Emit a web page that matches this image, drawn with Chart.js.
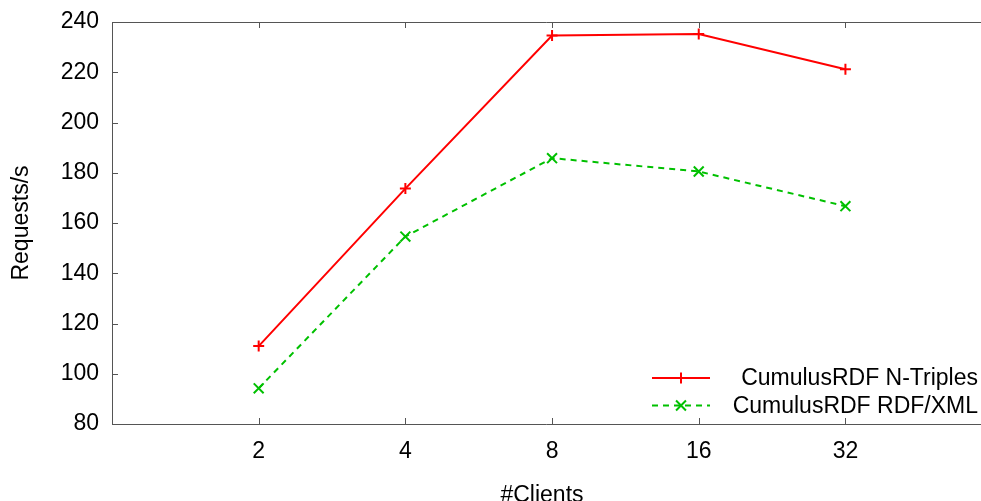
<!DOCTYPE html>
<html>
<head>
<meta charset="utf-8">
<script src="https://cdn.jsdelivr.net/npm/chart.js@4/dist/chart.umd.min.js"></script>
<style>
  html, body { margin: 0; padding: 0; background: #fff; }
  #wrap { width: 981px; height: 501px; }
</style>
</head>
<body>
<div id="wrap"><canvas id="chart" width="981" height="501"></canvas></div>
<script>
// --- Data ---
const clients = [2, 4, 8, 16, 32];
const nTriples = [111.0, 173.7, 234.6, 235.2, 221.2];
const rdfXml = [94.2, 154.6, 185.8, 180.5, 166.7];
const yTicks = [80, 100, 120, 140, 160, 180, 200, 220, 240];
const seriesNames = ['CumulusRDF N-Triples', 'CumulusRDF RDF/XML'];

const FONT = '"Liberation Sans", Arial, Helvetica, sans-serif';
const FONT_SIZE = 23;
const AXIS_COLOR = '#555555';
const RED = '#ff0000';
const GREEN = '#00c000';

// gnuplot style frame with inward ticks, plus an inside legend
const framePlugin = {
    id: 'frame',
    afterDraw(chart) {
        const { ctx, chartArea: a, scales } = chart;
        const tick = 6;
        const right = chart.width; // plot is cut off at the right edge
        ctx.save();
        ctx.strokeStyle = AXIS_COLOR;
        ctx.lineWidth = 1;
        ctx.beginPath();
        ctx.moveTo(right, a.top + 0.5);
        ctx.lineTo(a.left + 0.5, a.top + 0.5);
        ctx.lineTo(a.left + 0.5, a.bottom + 0.5);
        ctx.lineTo(right, a.bottom + 0.5);
        yTicks.forEach(v => {
            const y = Math.round(scales.y.getPixelForValue(v)) + 0.5;
            ctx.moveTo(a.left, y);
            ctx.lineTo(a.left + tick, y);
        });
        clients.forEach(c => {
            const x = Math.round(scales.x.getPixelForValue(c)) + 0.5;
            ctx.moveTo(x, a.bottom);
            ctx.lineTo(x, a.bottom - tick);
            ctx.moveTo(x, a.top);
            ctx.lineTo(x, a.top + tick);
        });
        ctx.stroke();

        // Legend
        const rows = [
            { y: a.bottom - 46, color: RED, dash: [], style: 'cross' },
            { y: a.bottom - 18.5, color: GREEN, dash: [6, 5], style: 'crossRot' }
        ];
        ctx.font = FONT_SIZE + 'px ' + FONT;
        ctx.textAlign = 'right';
        ctx.textBaseline = 'middle';
        rows.forEach((r, i) => {
            ctx.strokeStyle = r.color;
            ctx.lineWidth = 2;
            ctx.setLineDash(r.dash);
            ctx.beginPath();
            ctx.moveTo(652, r.y);
            ctx.lineTo(710, r.y);
            ctx.stroke();
            ctx.setLineDash([]);
            const ds = chart.data.datasets[i];
            Chart.helpers.drawPoint(ctx, {
                pointStyle: r.style,
                radius: ds.pointRadius,
                borderWidth: 2
            }, 681, r.y);
            ctx.fillStyle = '#000';
            ctx.fillText(seriesNames[i], 978, r.y + 1);
        });
        ctx.restore();
    }
};

new Chart(document.getElementById('chart'), {
    type: 'line',
    data: {
        datasets: [
            {
                label: seriesNames[0],
                data: clients.map((c, i) => ({ x: c, y: nTriples[i] })),
                borderColor: RED,
                backgroundColor: RED,
                borderWidth: 2,
                pointStyle: 'cross',
                pointRadius: 5.5,
                pointBorderWidth: 2,
                tension: 0
            },
            {
                label: seriesNames[1],
                data: clients.map((c, i) => ({ x: c, y: rdfXml[i] })),
                borderColor: GREEN,
                backgroundColor: GREEN,
                borderWidth: 2,
                borderDash: [6, 5],
                pointStyle: 'crossRot',
                pointRadius: 7,
                pointBorderWidth: 2,
                tension: 0
            }
        ]
    },
    options: {
        responsive: false,
        animation: false,
        devicePixelRatio: 1,
        layout: { padding: { top: 22, right: 0, bottom: 0, left: 0 } },
        plugins: {
            legend: { display: false },
            tooltip: { enabled: false }
        },
        scales: {
            x: {
                type: 'logarithmic',
                min: 1,
                max: 58.2,
                grid: { display: false },
                border: { display: false },
                afterBuildTicks: scale => {
                    scale.ticks = clients.map(v => ({ value: v }));
                },
                afterFit: scale => {
                    scale.height = 77;
                    scale.paddingLeft = 0;
                    scale.paddingRight = 0;
                },
                ticks: {
                    autoSkip: false,
                    maxRotation: 0,
                    padding: 6,
                    color: '#000',
                    font: { family: FONT, size: FONT_SIZE },
                    callback: v => String(v)
                },
                title: {
                    display: true,
                    text: '#Clients',
                    color: '#000',
                    font: { family: FONT, size: FONT_SIZE },
                    padding: { top: 0, bottom: -8 }
                }
            },
            y: {
                min: 80,
                max: 240,
                grid: { display: false },
                border: { display: false },
                afterBuildTicks: scale => {
                    scale.ticks = yTicks.map(v => ({ value: v }));
                },
                afterFit: scale => {
                    scale.width = 112;
                    scale.paddingTop = 0;
                    scale.paddingBottom = 0;
                },
                ticks: {
                    padding: 5,
                    color: '#000',
                    font: { family: FONT, size: FONT_SIZE }
                },
                title: {
                    display: true,
                    text: 'Requests/s',
                    color: '#000',
                    font: { family: FONT, size: FONT_SIZE },
                    padding: { top: 8, bottom: 0 }
                }
            }
        }
    },
    plugins: [framePlugin]
});
</script>
</body>
</html>
